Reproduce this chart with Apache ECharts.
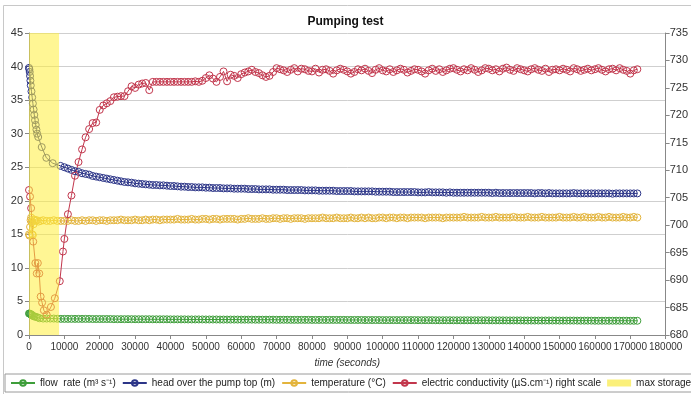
<!DOCTYPE html>
<html>
<head>
<meta charset="utf-8">
<script src="https://cdn.jsdelivr.net/npm/echarts@6/dist/echarts.min.js"></script>
<style>
  html, body { margin: 0; padding: 0; background: #fff; }
  #chart { width: 691px; height: 394px; }
</style>
</head>
<body>
<div id="chart"></div>
<script>
// time axis of the logger after the first 10000 s, in thousands of seconds
const timeK = [
  10,11,12,13,14,15,16,17,18,19,20,21,22,23,24,25,26,27,28,29,
  30,31,32,33,34,35,36,37,38,39,40,41,42,43,44,45,46,47,48,49,
  50,51,52,53,54,55,56,57,58,59,60,61,62,63,64,65,66,67,68,69,
  70,71,72,73,74,75,76,77,78,79,80,81,82,83,84,85,86,87,88,89,
  90,91,92,93,94,95,96,97,98,99,100,101,102,103,104,105,106,107,108,109,
  110,111,112,113,114,115,116,117,118,119,120,121,122,123,124,125,126,127,128,129,
  130,131,132,133,134,135,136,137,138,139,140,141,142,143,144,145,146,147,148,149,
  150,151,152,153,154,155,156,157,158,159,160,161,162,163,164,165,166,167,168,169,
  170,171,172
];

// flow rate (m3 s-1)
const flowEarlyT = [0,150,300,450,600,800,1000,1300,1600,2000,2500,3000,4000,5000,6000,7000,8000,9000];
const flowEarlyV = [3.2,3.2,3.15,3.1,3.05,3.0,2.9,2.8,2.75,2.7,2.6,2.5,2.45,2.45,2.45,2.45,2.42,2.4];
const flowV = [
  2.40,2.40,2.40,2.40,2.40,2.40,2.40,2.40,2.38,2.38,
  2.38,2.38,2.38,2.38,2.36,2.36,2.36,2.36,2.36,2.36,
  2.35,2.35,2.35,2.35,2.35,2.34,2.34,2.34,2.34,2.34,
  2.33,2.33,2.33,2.33,2.33,2.32,2.32,2.32,2.32,2.32,
  2.31,2.31,2.31,2.31,2.30,2.30,2.30,2.30,2.30,2.30,
  2.29,2.29,2.29,2.29,2.28,2.28,2.28,2.28,2.28,2.28,
  2.27,2.27,2.27,2.27,2.26,2.26,2.26,2.26,2.26,2.26,
  2.25,2.25,2.25,2.25,2.25,2.25,2.25,2.25,2.25,2.25,
  2.24,2.24,2.24,2.24,2.24,2.23,2.23,2.23,2.23,2.23,
  2.22,2.22,2.22,2.22,2.22,2.22,2.22,2.22,2.22,2.22,
  2.21,2.21,2.21,2.21,2.21,2.20,2.20,2.20,2.20,2.20,
  2.19,2.19,2.19,2.19,2.19,2.19,2.19,2.19,2.19,2.19,
  2.18,2.18,2.18,2.18,2.18,2.17,2.17,2.17,2.17,2.17,
  2.16,2.16,2.16,2.16,2.16,2.16,2.16,2.16,2.16,2.16,
  2.15,2.15,2.15,2.15,2.15,2.14,2.14,2.14,2.14,2.14,
  2.13,2.13,2.13,2.13,2.13,2.13,2.13,2.13,2.13,2.13,
  2.12,2.12,2.12
];

// head over the pump top (m)
const headEarlyT = [0,100,200,300,400,500,700,900,1100,1300,1500,1700,1900,2100,2300,2600,3600,4900,6700,8900];
const headEarlyV = [39.8,39.6,39.2,38.6,37.9,37.2,36.3,35.4,34.5,33.6,32.8,32.0,31.3,30.6,30.0,29.5,28.0,26.4,25.6,25.2];
const headV = [
  25.0,24.8,24.6,24.4,24.3,24.1,24.0,23.9,23.7,23.6,
  23.5,23.4,23.3,23.2,23.1,23.0,22.9,22.8,22.75,22.7,
  22.6,22.55,22.5,22.45,22.4,22.35,22.35,22.3,22.3,22.25,
  22.2,22.2,22.15,22.1,22.1,22.05,22.05,22.0,22.0,22.0,
  21.95,21.95,21.9,21.9,21.9,21.85,21.85,21.85,21.8,21.8,
  21.8,21.8,21.75,21.75,21.75,21.7,21.7,21.7,21.7,21.65,
  21.65,21.65,21.65,21.6,21.6,21.6,21.6,21.6,21.55,21.55,
  21.55,21.55,21.5,21.5,21.5,21.5,21.5,21.45,21.45,21.45,
  21.45,21.45,21.4,21.4,21.4,21.4,21.4,21.4,21.35,21.35,
  21.35,21.35,21.35,21.3,21.3,21.3,21.3,21.3,21.3,21.3,
  21.25,21.25,21.25,21.3,21.25,21.25,21.25,21.25,21.2,21.25,
  21.2,21.2,21.2,21.2,21.2,21.2,21.2,21.2,21.2,21.2,
  21.2,21.15,21.2,21.15,21.15,21.15,21.15,21.15,21.15,21.15,
  21.15,21.15,21.15,21.1,21.15,21.15,21.1,21.15,21.1,21.1,
  21.1,21.1,21.1,21.1,21.15,21.1,21.1,21.1,21.1,21.1,
  21.1,21.1,21.1,21.1,21.1,21.05,21.1,21.1,21.1,21.1,
  21.1,21.1,21.1
];

// temperature (°C)
const tempEarlyT = [0,150,300,450,600,750,900,1100,1300,1500,1800,2200,2700,3300,4000,5000,6000,7000,8000,9000];
const tempEarlyV = [15.0,14.8,16.1,17.1,17.5,16.8,15.0,14.9,16.5,17.2,17.0,17.1,16.9,17.0,17.1,17.0,17.0,17.1,17.0,17.0];
const tempV = [
  17.0,17.0,17.1,17.0,17.0,17.1,17.0,17.1,17.1,17.0,
  17.1,17.1,17.0,17.1,17.1,17.1,17.2,17.1,17.1,17.1,
  17.2,17.1,17.1,17.2,17.1,17.2,17.2,17.1,17.2,17.2,
  17.2,17.2,17.3,17.2,17.2,17.2,17.3,17.2,17.2,17.3,
  17.3,17.2,17.3,17.3,17.2,17.3,17.3,17.3,17.3,17.2,
  17.3,17.3,17.4,17.3,17.3,17.3,17.4,17.3,17.3,17.4,
  17.4,17.3,17.4,17.4,17.3,17.4,17.4,17.4,17.3,17.4,
  17.4,17.4,17.4,17.5,17.4,17.4,17.4,17.5,17.4,17.4,
  17.4,17.5,17.4,17.4,17.5,17.4,17.5,17.4,17.4,17.5,
  17.5,17.4,17.5,17.5,17.4,17.5,17.5,17.4,17.5,17.5,
  17.5,17.5,17.4,17.5,17.5,17.5,17.5,17.4,17.5,17.5,
  17.5,17.5,17.5,17.6,17.5,17.5,17.5,17.5,17.6,17.5,
  17.5,17.5,17.6,17.5,17.5,17.5,17.5,17.6,17.5,17.5,
  17.5,17.6,17.5,17.5,17.5,17.6,17.5,17.5,17.5,17.5,
  17.6,17.5,17.5,17.5,17.6,17.5,17.5,17.6,17.5,17.5,
  17.5,17.6,17.5,17.5,17.6,17.5,17.5,17.5,17.6,17.5,
  17.5,17.6,17.5
];

// electric conductivity (µS/cm), right scale
const ecEarlyT = [0,300,600,1200,1800,2200,2500,2900,3300,3700,4200,5000,6200,7300,8700,9600];
const ecEarlyV = [706.4,705.2,703.1,697.0,693.1,691.2,693.1,691.2,687.0,685.9,684.5,683.7,685.1,686.7,689.8,695.2];
const ecV = [
  697.5,702.0,705.4,709.0,711.5,713.8,716.0,717.5,718.6,718.7,
  721.0,721.8,722.2,722.6,723.3,723.4,723.5,723.5,724.4,725.3,
  725.0,725.6,725.8,725.9,724.6,726.1,726.1,726.1,726.1,726.1,
  726.1,726.1,726.1,726.1,726.1,726.1,726.1,726.2,726.1,726.3,
  726.8,727.3,726.7,726.1,727.0,728.0,726.2,727.4,727.2,726.8,
  727.5,727.8,728.0,728.3,727.9,727.7,727.3,727.0,727.2,727.9,
  728.6,728.4,728.2,727.9,728.3,728.6,728.0,728.5,728.4,728.1,
  728.0,728.5,727.8,728.3,728.4,728.1,727.6,728.2,728.5,728.3,
  728.0,727.6,727.9,728.4,728.2,728.5,728.1,727.7,728.3,728.6,
  728.2,728.0,728.4,727.9,728.2,728.5,728.3,727.8,728.1,728.4,
  728.3,728.0,727.6,728.2,728.5,728.1,728.4,727.9,728.2,728.5,
  728.6,728.3,728.0,728.4,728.2,728.6,728.3,727.9,728.2,728.6,
  728.5,728.2,728.4,728.0,728.5,728.7,728.3,728.1,728.6,728.4,
  728.2,728.0,728.4,728.6,728.3,728.1,728.5,727.9,728.3,728.4,
  728.2,728.5,728.3,728.0,728.6,728.4,728.1,728.3,728.5,728.2,
  728.4,728.6,728.3,728.0,728.4,728.5,728.2,728.6,728.3,728.1,
  727.6,728.2,728.4
];

// period of maximum storage effect (s)
const storageStart = 0;
const storageEnd = 8500;

function pairs(earlyT, earlyV, laterV) {
  const out = earlyT.map((t, i) => [t, earlyV[i]]);
  timeK.forEach((k, i) => out.push([k * 1000, laterV[i]]));
  return out;
}

const FONT = '"Liberation Sans", Arial, sans-serif';

function lineSeries(name, color, data, yAxisIndex) {
  return {
    name: name,
    type: 'line',
    yAxisIndex: yAxisIndex,
    data: data,
    symbol: 'circle',
    symbolSize: 7,
    color: color,
    itemStyle: { color: 'rgba(255,255,255,0)', borderColor: color, borderWidth: 1 },
    lineStyle: { color: color, width: 1 },
    animation: false,
    z: 2
  };
}

const chart = echarts.init(document.getElementById('chart'));

const option = {
  backgroundColor: '#fff',
  animation: false,
  textStyle: { fontFamily: FONT },
  title: {
    text: 'Pumping test',
    left: 'center',
    top: 11,
    textStyle: { fontSize: 12, fontWeight: 'bold', color: '#111', fontFamily: FONT }
  },
  graphic: [{
    type: 'rect',
    shape: { x: 3.5, y: 5.5, width: 720, height: 420 },
    style: { fill: 'none', stroke: '#c8c8c8', lineWidth: 1 },
    silent: true
  }],
  grid: { left: 29, right: 20, top: 33, bottom: 59 },
  legend: {
    left: 5,
    top: 374,
    width: 1200,
    itemWidth: 24,
    itemHeight: 7,
    itemGap: 6,
    padding: [4, 5],
    borderColor: '#9a9a9a',
    borderWidth: 1,
    textStyle: { fontSize: 10, color: '#222', fontFamily: FONT },
    data: [
      { name: 'flow  rate (m³ s⁻¹)' },
      { name: 'head over the pump top (m)' },
      { name: 'temperature (°C)' },
      { name: 'electric conductivity (µS.cm⁻¹) right scale' },
      { name: 'max storage effect', icon: 'rect' }
    ]
  },
  xAxis: {
    type: 'value',
    min: 0,
    max: 180000,
    interval: 10000,
    name: 'time (seconds)',
    nameLocation: 'middle',
    nameGap: 23,
    nameTextStyle: { fontStyle: 'italic', fontSize: 10, color: '#333', fontFamily: FONT },
    axisLine: { lineStyle: { color: '#888' } },
    axisTick: { show: true, length: 4, lineStyle: { color: '#888' } },
    axisLabel: {
      fontSize: 10, color: '#333', margin: 7, interval: 0,
      showMaxLabel: true, showMinLabel: true, hideOverlap: false,
      fontFamily: FONT,
      formatter: v => String(v)
    },
    splitLine: { show: false }
  },
  yAxis: [
    {
      type: 'value',
      min: 0,
      max: 45,
      interval: 5,
      axisLine: { show: true, lineStyle: { color: '#888' } },
      axisTick: { show: true, length: 4, lineStyle: { color: '#888' } },
      axisLabel: { fontSize: 11, color: '#333', margin: 6, fontFamily: FONT },
      splitLine: { lineStyle: { color: '#cfcfcf', width: 1 } }
    },
    {
      type: 'value',
      min: 680,
      max: 735,
      interval: 5,
      position: 'right',
      axisLine: { show: true, lineStyle: { color: '#888' } },
      axisTick: { show: true, length: 4, lineStyle: { color: '#888' } },
      axisLabel: { fontSize: 11, color: '#333', margin: 4, fontFamily: FONT },
      splitLine: { show: false }
    }
  ],
  series: [
    lineSeries('flow  rate (m³ s⁻¹)', '#3e9e3a', pairs(flowEarlyT, flowEarlyV, flowV), 0),
    lineSeries('head over the pump top (m)', '#2c3588', pairs(headEarlyT, headEarlyV, headV), 0),
    lineSeries('temperature (°C)', '#e3b43c', pairs(tempEarlyT, tempEarlyV, tempV), 0),
    lineSeries('electric conductivity (µS.cm⁻¹) right scale', '#c2364c', pairs(ecEarlyT, ecEarlyV, ecV), 1),
    {
      name: 'max storage effect',
      type: 'custom',
      coordinateSystem: 'cartesian2d',
      xAxisIndex: 0,
      yAxisIndex: 0,
      data: [[storageStart, storageEnd]],
      encode: { x: [0, 1] },
      color: '#fbf07a',
      itemStyle: { color: '#fbf07a' },
      silent: true,
      z: 10,
      renderItem: function (params, api) {
        const topLeft = api.coord([api.value(0), 45]);
        const bottomRight = api.coord([api.value(1), 0]);
        return {
          type: 'rect',
          shape: {
            x: topLeft[0],
            y: topLeft[1],
            width: bottomRight[0] - topLeft[0],
            height: bottomRight[1] - topLeft[1]
          },
          style: { fill: 'rgba(255, 238, 60, 0.55)' }
        };
      }
    }
  ]
};

option && chart.setOption(option);
</script>
</body>
</html>
